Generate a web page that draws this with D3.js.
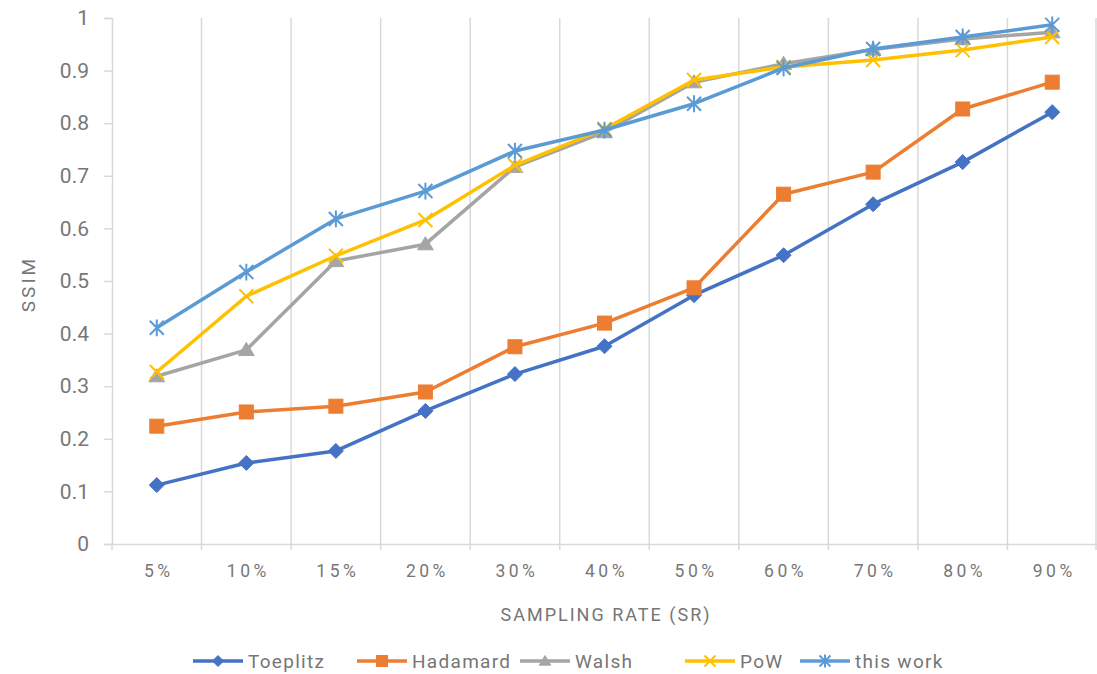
<!DOCTYPE html>
<html><head><meta charset="utf-8">
<script src="https://cdn.jsdelivr.net/npm/d3@7"></script>
<style>
html,body{margin:0;padding:0;background:#fff;}
svg{display:block;}
text{font-family:Roboto,"Noto Sans",sans-serif;fill:#767676;}
</style></head>
<body>
<svg id="chart" width="1097" height="674"></svg>
<script>
const categories = ["5%","10%","15%","20%","30%","40%","50%","60%","70%","80%","90%"];
const toeplitz = [0.112,0.154,0.177,0.253,0.323,0.376,0.473,0.549,0.646,0.726,0.821];
const hadamard = [0.224,0.251,0.262,0.289,0.375,0.420,0.487,0.665,0.707,0.827,0.878];
const walsh    = [0.319,0.369,0.538,0.570,0.717,0.783,0.878,0.913,0.940,0.960,0.973];
const pow      = [0.327,0.471,0.548,0.616,0.720,0.789,0.882,0.907,0.920,0.939,0.964];
const thisWork = [0.411,0.517,0.618,0.671,0.747,0.787,0.837,0.905,0.941,0.964,0.987];
const yTicks = [0,0.1,0.2,0.3,0.4,0.5,0.6,0.7,0.8,0.9,1];
const seriesNames = ["Toeplitz","Hadamard","Walsh","PoW","this work"];

const colors = ["#4472C4","#ED7D31","#A5A5A5","#FFC000","#5B9BD5"];
const shapes = ["diamond","square","triangle","x","star"];
const seriesData = [toeplitz,hadamard,walsh,pow,thisWork];
const FONT = 'Roboto,"Noto Sans",sans-serif';

const svg = d3.select("#chart");
const pL = 112, pR = 1097, pT = 18, pB = 544;
const x = d3.scaleBand().domain(categories).range([pL,pR]).paddingInner(0).paddingOuter(0);
const y = d3.scaleLinear().domain([0,1]).range([pB,pT]);
const cx = c => x(c) + x.bandwidth()/2;

// vertical gridlines at band boundaries
const bounds = categories.slice(1).map(c => x(c)).concat([pR-1]);
svg.append("g").selectAll("line").data(bounds).join("line")
  .attr("x1",d=>d).attr("x2",d=>d).attr("y1",pT).attr("y2",pB)
  .attr("stroke","#d9d9d9").attr("stroke-width",1.5);

// y axis
const yAxis = d3.axisLeft(y).tickValues(yTicks).tickSize(8).tickPadding(15)
  .tickFormat(d => d===0||d===1 ? String(d) : d3.format(".1f")(d));
const gy = svg.append("g").attr("transform",`translate(${pL},0)`).call(yAxis);
gy.select(".domain").attr("stroke","#d9d9d9").attr("stroke-width",1.5);
gy.selectAll(".tick line").attr("stroke","#d9d9d9").attr("stroke-width",1.5);
gy.selectAll(".tick text").attr("font-size",21).style("fill","#777").style("font-family",FONT);

// x axis
const xAxis = d3.axisBottom(x).tickSize(0).tickPadding(21);
const gx = svg.append("g").attr("transform",`translate(0,${pB})`).call(xAxis);
gx.select(".domain").attr("stroke","#d9d9d9").attr("stroke-width",1.5);
gx.selectAll(".tick text").attr("font-size",17.5).attr("letter-spacing","3.5px").attr("dx","2px")
  .style("fill","#777").style("font-family",FONT);
// boundary tick marks
gx.append("g").selectAll("line").data([pL].concat(bounds)).join("line")
  .attr("x1",d=>d).attr("x2",d=>d).attr("y1",0).attr("y2",6)
  .attr("stroke","#d9d9d9").attr("stroke-width",1.5);

// axis titles
svg.append("text").attr("x",606).attr("y",621).attr("text-anchor","middle")
  .attr("font-size",18).attr("letter-spacing","2px").text("SAMPLING RATE (SR)");
svg.append("text").attr("transform","translate(35,284) rotate(-90)").attr("text-anchor","middle")
  .attr("font-size",19).attr("letter-spacing","3px").text("SSIM");

function marker(g, shape, color, s) {
  if (shape==="diamond") {
    g.append("path").attr("d",`M0,${-s}L${s},0L0,${s}L${-s},0Z`).attr("fill",color).attr("stroke",color).attr("stroke-width",1);
  } else if (shape==="square") {
    g.append("rect").attr("x",-s).attr("y",-s).attr("width",2*s).attr("height",2*s).attr("fill",color).attr("stroke",color).attr("stroke-width",1);
  } else if (shape==="triangle") {
    g.append("path").attr("d",`M0,${-s}L${s*1.05},${s*0.75}L${-s*1.05},${s*0.75}Z`).attr("fill",color).attr("stroke",color).attr("stroke-width",1);
  } else if (shape==="x") {
    g.append("path").attr("d",`M${-s},${-s}L${s},${s}M${-s},${s}L${s},${-s}`).attr("stroke",color).attr("stroke-width",2).attr("fill","none");
  } else if (shape==="star") {
    g.append("path").attr("d",`M${-s},${-s}L${s},${s}M${-s},${s}L${s},${-s}M0,${-s*1.2}L0,${s*1.2}`).attr("stroke",color).attr("stroke-width",2).attr("fill","none");
  }
}
const markerSize = [7.5,7,7.5,7,7];

const line = d3.line().x((d,i)=>cx(categories[i])).y(d=>y(d));
seriesData.forEach((vals,k) => {
  const g = svg.append("g");
  g.append("path").datum(vals).attr("d",line).attr("fill","none")
    .attr("stroke",colors[k]).attr("stroke-width",3.5).attr("stroke-linejoin","round");
  vals.forEach((v,i) => {
    const m = g.append("g").attr("transform",`translate(${cx(categories[i])},${y(v)})`);
    marker(m, shapes[k], colors[k], markerSize[k]);
  });
});

// legend
const legendX = [193,357,520,685,800];
const legendY = 661;
seriesNames.forEach((name,k) => {
  const g = svg.append("g").attr("transform",`translate(${legendX[k]},${legendY})`);
  g.append("line").attr("x1",0).attr("x2",50).attr("y1",0).attr("y2",0)
    .attr("stroke",colors[k]).attr("stroke-width",3.5);
  const m = g.append("g").attr("transform","translate(25,0)");
  marker(m, shapes[k], colors[k], 5.5);
  g.append("text").attr("x",55).attr("y",0).attr("dy","0.36em").attr("font-size",19)
    .attr("letter-spacing","1.3px").text(name);
});
</script>
</body></html>
